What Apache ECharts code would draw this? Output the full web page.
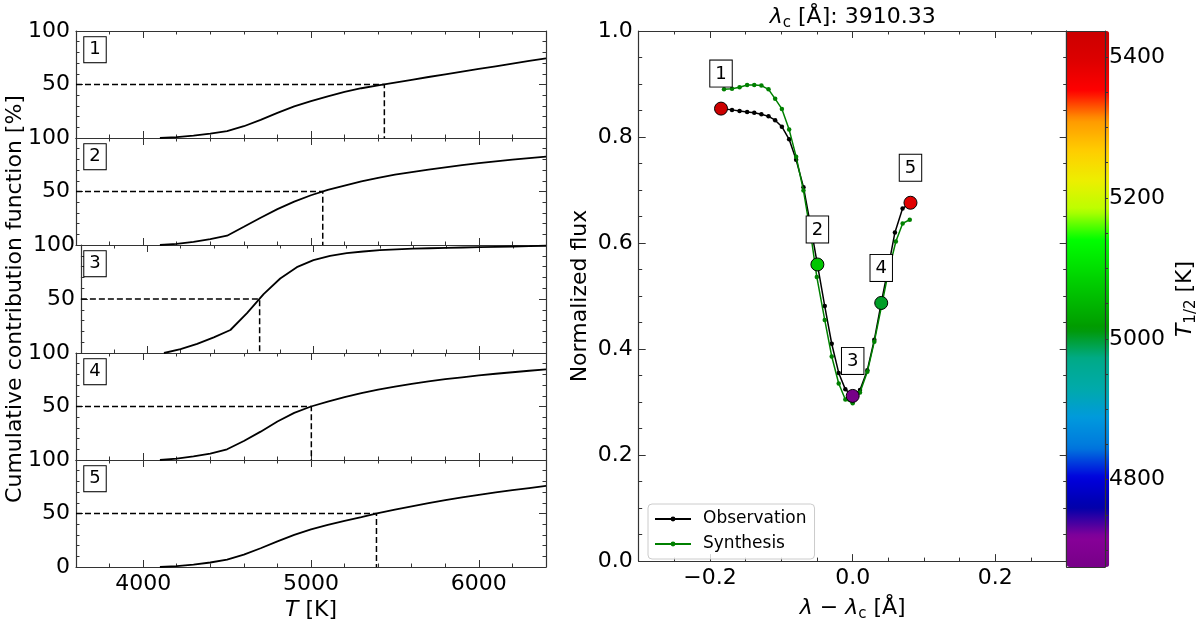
<!DOCTYPE html>
<html>
<head>
<meta charset="utf-8">
<script src="https://cdn.jsdelivr.net/npm/echarts@6/dist/echarts.min.js"></script>
<style>
  html, body { margin: 0; padding: 0; background: #fff; }
  #main { width: 1200px; height: 627px; }
</style>
</head>
<body>
<div id="main"></div>
<script>
// ---- data ----
// temperature grid of the cumulative contribution functions [K]
var tempK = [4100, 4200, 4300, 4400, 4500, 4600, 4700, 4800, 4900, 5000, 5100, 5200,
             5300, 5400, 5500, 5600, 5700, 5800, 5900, 6000, 6100, 6200, 6300, 6400];
// cumulative contribution function [%], one list per point 1..5
var cumPoint1 = [0, 0.8, 2.2, 4, 6.5, 11, 17, 23.5, 29.5, 34.5, 39, 43, 46.5, 49.2, 51.8, 54.4, 57, 59.5, 62, 64.5, 67, 69.5, 72, 74.5];
var cumPoint2 = [0, 1, 3, 5.5, 8.7, 17, 25.5, 33.5, 40.5, 46.5, 51.5, 55.5, 59.5, 62.8, 65.7, 68.2, 70.4, 72.5, 74.6, 76.5, 78.2, 79.8, 81.2, 82.5];
var cumPoint3 = [0, 3.5, 8.5, 14.5, 21.3, 37, 54.5, 69, 79.5, 86, 90, 92.5, 94, 95.3, 96, 96.6, 97, 97.4, 97.7, 98, 98.3, 98.6, 98.9, 99.3];
var cumPoint4 = [0, 1.2, 3.3, 6, 10, 17.8, 26.5, 36, 44, 50, 54.5, 58.8, 62.5, 65.7, 68.5, 71.2, 73.5, 75.5, 77.3, 79, 80.6, 82, 83.4, 84.7];
var cumPoint5 = [0, 0.8, 2.2, 4.2, 6.8, 11.5, 17.5, 24, 30, 35.2, 39.3, 43, 46.6, 50.3, 53.6, 56.7, 59.7, 62.6, 65.1, 67.5, 69.7, 71.8, 73.8, 75.8];
// temperature at 50 % for each point [K]
var halfT = [5437, 5070, 4676, 5002, 5390];
var tTickLabels = [4000, 5000, 6000];
var cumTickLabels = [0, 50, 100];

// line profile
var lineCenter = 3910.33;
var obsLambda = [-0.1846, -0.1692, -0.1586, -0.148, -0.138, -0.128, -0.118, -0.1087, -0.0993, -0.0891,
                 -0.0793, -0.069, -0.059, -0.0495, -0.0392, -0.0294, -0.0196, -0.0103, 0, 0.0102,
                 0.0205, 0.0303, 0.04, 0.05, 0.0592, 0.0699, 0.081];
var obsFlux = [0.8536, 0.8512, 0.8493, 0.8474, 0.8456, 0.843, 0.839, 0.8318, 0.8194, 0.7957,
               0.757, 0.7054, 0.633, 0.5596, 0.481, 0.41, 0.355, 0.324, 0.3116, 0.3228,
               0.36, 0.4175, 0.487, 0.555, 0.62, 0.665, 0.676];
var synLambda = [-0.1804, -0.1692, -0.1586, -0.148, -0.138, -0.128, -0.118, -0.1087, -0.0993, -0.0891,
                 -0.0793, -0.069, -0.059, -0.0503, -0.0392, -0.0294, -0.0196, -0.0103, 0, 0.0102,
                 0.0205, 0.0303, 0.04, 0.05, 0.0605, 0.07, 0.08];
var synFlux = [0.89, 0.891, 0.894, 0.898, 0.898, 0.897, 0.89, 0.872, 0.853, 0.814,
               0.763, 0.699, 0.618, 0.536, 0.455, 0.386, 0.335, 0.305, 0.298, 0.318,
               0.357, 0.414, 0.478, 0.545, 0.603, 0.637, 0.644];
// observation samples that carry the numbered markers 1..5
var markIdx = [0, 13, 18, 22, 26];
var lambdaTickLabels = [-0.2, 0, 0.2];
var cbarTickLabels = [4800, 5000, 5200, 5400];

// nipy_spectral, 0.05 .. 0.95
var nipySpectral = ['#770088', '#880099', '#0000aa', '#0000dd', '#0077dd', '#0099dd', '#00aaaa',
                    '#00aa88', '#009900', '#00bb00', '#00dd00', '#00ff00', '#bbff00', '#eeee00',
                    '#ffcc00', '#ff9900', '#ff0000', '#dd0000', '#cc0000'];

// ---- layout ----
var FONT = 'DejaVu Sans';
var TOP = 31, BOTTOM = 567;
var LEFT_X = 76, LEFT_W = 470;
var RIGHT_X = 638.7, RIGHT_W = 428;
var CBAR_W = 42.5;
var frameLine = { color: '#333', width: 1.2 };
var tickLine = { color: '#333', width: 1 };
var tickFont = { color: '#000', fontSize: 22, fontFamily: FONT };
var nameStyle = {
  color: '#000', fontSize: 22, fontFamily: FONT, lineHeight: 28,
  rich: {
    i: { fontStyle: 'italic', fontSize: 22, fontFamily: FONT, color: '#000', lineHeight: 28 },
    s: { fontSize: 15, fontFamily: FONT, color: '#000', lineHeight: 15, verticalAlign: 'bottom' }
  }
};

var cumAll = [cumPoint1, cumPoint2, cumPoint3, cumPoint4, cumPoint5];
var tMin = Math.min.apply(null, halfT), tMax = Math.max.apply(null, halfT);
var panelEdges = cumAll.map(function (c, i) { return Math.round(TOP + i * (BOTTOM - TOP) / cumAll.length); });
panelEdges.push(BOTTOM);

var grid = [], xAxis = [], yAxis = [], series = [];

function addAxis(list, gridIndex, pos, min, max, extra) {
  list.push(Object.assign({
    type: 'value', gridIndex: gridIndex, position: pos, min: min, max: max,
    axisLine: { show: false, onZero: false },
    axisTick: { show: false },
    axisLabel: { show: false },
    splitLine: { show: false }
  }, extra || {}));
  return list.length - 1;
}

// x frame: major ticks at given values, minor ticks every minorStep, top and bottom
function framedX(g, min, max, majors, minorStep, fmt, name) {
  var main = -1;
  ['bottom', 'top'].forEach(function (pos) {
    var idx = addAxis(xAxis, g, pos, min, max, {
      axisLine: { show: true, onZero: false, lineStyle: frameLine },
      axisTick: { show: true, inside: true, length: 7, customValues: majors, lineStyle: tickLine },
      axisLabel: Object.assign({ show: pos === 'bottom' && !!fmt, customValues: majors, formatter: fmt, margin: 6 }, tickFont),
      name: pos === 'bottom' ? name : '', nameLocation: 'middle', nameGap: 26, nameTextStyle: nameStyle
    });
    addAxis(xAxis, g, pos, min, max, {
      interval: minorStep,
      axisTick: { show: true, inside: true, length: 3.5, lineStyle: tickLine }
    });
    if (pos === 'bottom') main = idx;
  });
  return main;
}

function framedY(g, min, max, step, minorSplit, labels, fmt, name, gap) {
  var main = -1;
  ['left', 'right'].forEach(function (pos) {
    var label = { show: pos === 'left', formatter: fmt, margin: 6 };
    if (labels) label.customValues = labels;
    var idx = addAxis(yAxis, g, pos, min, max, {
      interval: step,
      axisLine: { show: true, onZero: false, lineStyle: frameLine },
      axisTick: { show: true, inside: true, length: 7, lineStyle: tickLine },
      minorTick: { show: true, splitNumber: minorSplit, length: 3.5, lineStyle: tickLine },
      axisLabel: Object.assign(label, tickFont),
      name: pos === 'left' ? name : '', nameLocation: 'middle', nameGap: gap, nameTextStyle: nameStyle
    });
    if (pos === 'left') main = idx;
  });
  return main;
}

// ---- left: five cumulative contribution panels ----
cumAll.forEach(function (cum, i) {
  grid.push({ left: LEFT_X, top: panelEdges[i], width: LEFT_W, height: panelEdges[i + 1] - panelEdges[i] });
  var last = i === cumAll.length - 1;
  var xi = framedX(i, 3600, 6400, tTickLabels, 200,
    last ? function (v) { return String(v); } : null,
    last ? '{i|T} [K]' : '');
  // the 0 of an upper panel sits under the 100 of the panel below
  var yi = framedY(i, 0, 100, 50, 5, last ? cumTickLabels : cumTickLabels.slice(1),
    function (v) { return String(v); },
    i === 2 ? 'Cumulative contribution function [%]' : '', 43);
  series.push({
    type: 'line', xAxisIndex: xi, yAxisIndex: yi, showSymbol: false, silent: true,
    lineStyle: { color: '#000', width: 1.8 },
    data: tempK.map(function (t, k) { return [t, cum[k]]; })
  });
  series.push({
    type: 'line', xAxisIndex: xi, yAxisIndex: yi, showSymbol: false, silent: true,
    lineStyle: { color: '#000', width: 1.5, type: [6, 3] },
    data: [[3600, 50], [halfT[i], 50], [halfT[i], 0]]
  });
});

// ---- right: line profile ----
var rg = grid.length;
grid.push({ left: RIGHT_X, top: TOP, width: RIGHT_W, height: BOTTOM - TOP });
var lamFmt = function (v) { return (v < -1e-9 ? '\u2212' : '') + Math.abs(v).toFixed(1); };
var rx = framedX(rg, -0.3, 0.3, lambdaTickLabels, 0.05, lamFmt, '{i|λ} \u2212 {i|λ}{s|c} [Å]');
var ry = framedY(rg, 0, 1, 0.2, 4, null, function (v) { return v.toFixed(1); }, 'Normalized flux', 38);

series.push({
  name: 'Observation', type: 'line', xAxisIndex: rx, yAxisIndex: ry, z: 3,
  symbol: 'circle', symbolSize: 4.5, showSymbol: true,
  itemStyle: { color: '#000' }, lineStyle: { color: '#000', width: 1.5 },
  data: obsLambda.map(function (x, k) { return [x, obsFlux[k]]; })
});
series.push({
  name: 'Synthesis', type: 'line', xAxisIndex: rx, yAxisIndex: ry, z: 4,
  symbol: 'circle', symbolSize: 4.5, showSymbol: true,
  itemStyle: { color: '#008000' }, lineStyle: { color: '#008000', width: 1.5 },
  data: synLambda.map(function (x, k) { return [x, synFlux[k]]; })
});
var markerSeries = series.length;
series.push({
  type: 'scatter', xAxisIndex: rx, yAxisIndex: ry, z: 6, symbolSize: 13,
  itemStyle: { borderColor: '#000', borderWidth: 1, opacity: 1 },
  label: {
    show: true, position: 'top', distance: 15,
    formatter: function (p) { return String(p.dataIndex + 1); },
    color: '#000', fontSize: 18, fontFamily: FONT, lineHeight: 19,
    backgroundColor: '#fff', borderColor: '#000', borderWidth: 1, padding: [4, 5, 3, 5]
  },
  data: markIdx.map(function (k, j) { return [obsLambda[k], obsFlux[k], halfT[j]]; })
});

// ---- colorbar frame and axis ----
var cg = grid.length;
grid.push({ left: RIGHT_X + RIGHT_W, top: TOP, width: CBAR_W, height: BOTTOM - TOP, z: 10 });
var cbarMinor = [];
for (var t = Math.ceil(tMin / 50) * 50; t <= tMax; t += 50) cbarMinor.push(t);
addAxis(xAxis, cg, 'bottom', 0, 1, { z: 10, axisLine: { show: true, onZero: false, lineStyle: frameLine } });
addAxis(xAxis, cg, 'top', 0, 1, { z: 10, axisLine: { show: true, onZero: false, lineStyle: frameLine } });
addAxis(yAxis, cg, 'left', tMin, tMax, { z: 10, axisLine: { show: true, onZero: false, lineStyle: frameLine } });
addAxis(yAxis, cg, 'right', tMin, tMax, {
  z: 10,
  axisLine: { show: true, onZero: false, lineStyle: frameLine },
  axisTick: { show: true, inside: false, length: 3, customValues: cbarMinor, lineStyle: tickLine },
  axisLabel: Object.assign({ show: true, customValues: cbarTickLabels, margin: 4,
    formatter: function (v) { return String(v); } }, tickFont),
  name: '{i|T}{s|1/2} [K]', nameLocation: 'middle', nameRotate: 90, nameGap: 66, nameTextStyle: nameStyle
});

var option = {
  animation: false,
  backgroundColor: '#fff',
  grid: grid,
  xAxis: xAxis,
  yAxis: yAxis,
  series: series,
  visualMap: {
    type: 'continuous', min: tMin, max: tMax, dimension: 2, seriesIndex: markerSeries,
    inRange: { color: nipySpectral },
    left: RIGHT_X + RIGHT_W, top: TOP, itemWidth: CBAR_W, itemHeight: BOTTOM - TOP,
    padding: 0, calculable: false, hoverLink: false, text: null, showLabel: false
  },
  legend: {
    data: ['Observation', 'Synthesis'], orient: 'vertical', left: 648, top: 504,
    itemWidth: 36, itemHeight: 6, itemGap: 5, padding: [5, 8, 5, 6], selectedMode: false,
    backgroundColor: 'rgba(255,255,255,0.8)', borderColor: '#ccc', borderWidth: 1, borderRadius: 4,
    textStyle: { color: '#000', fontSize: 17, fontFamily: FONT, lineHeight: 20, padding: [0, 0, 0, 7] }
  },
  graphic: [{
    type: 'text', x: RIGHT_X + RIGHT_W / 2, y: 17, z: 20,
    style: {
      text: '{i|λ}{s|c} [Å]: ' + lineCenter.toFixed(2),
      fontSize: 22, fontFamily: FONT, fill: '#000', align: 'center', verticalAlign: 'middle',
      lineHeight: 28,
      rich: {
        i: { fontStyle: 'italic', fontSize: 22, fontFamily: FONT, fill: '#000', lineHeight: 28 },
        s: { fontSize: 15, fontFamily: FONT, fill: '#000', lineHeight: 15, verticalAlign: 'bottom' }
      }
    }
  }].concat(halfT.map(function (t, i) {
    return {
      type: 'text', x: 95, y: panelEdges[i] + 18.7, z: 20,
      style: {
        text: String(i + 1), fontSize: 18, fontFamily: FONT, fill: '#000',
        align: 'center', verticalAlign: 'middle', backgroundColor: '#fff',
        borderColor: '#000', borderWidth: 1, padding: [4, 5, 3, 5]
      }
    };
  }))
};

var chart = echarts.init(document.getElementById('main'));
chart.setOption(option);
</script>
</body>
</html>
